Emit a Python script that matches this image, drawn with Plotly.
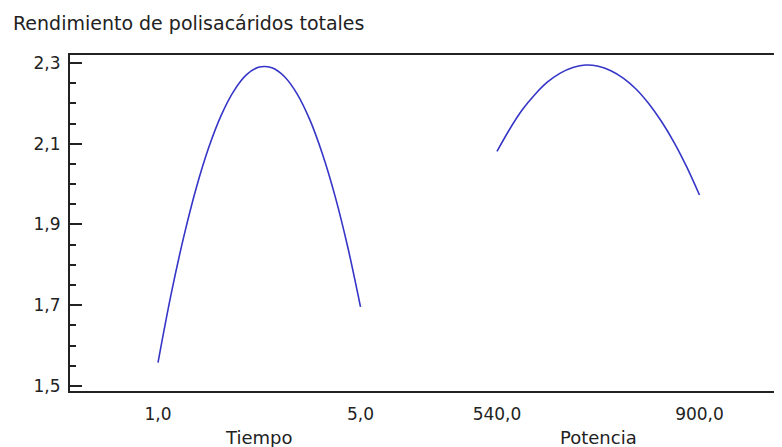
import plotly.graph_objects as go

# ---- data ----
title_text = "Rendimiento de polisacáridos totales"
factor_names = ["Tiempo", "Potencia"]

tiempo_levels = [1.0, 1.25, 1.5, 1.75, 2.0, 2.25, 2.5, 2.75, 3.0, 3.25, 3.5,
                 3.75, 4.0, 4.25, 4.5, 4.75, 5.0]
tiempo_yield = [1.558, 1.722, 1.865, 1.988, 2.090, 2.171, 2.231, 2.271, 2.290,
                2.288, 2.266, 2.223, 2.159, 2.074, 1.969, 1.843, 1.696]

potencia_levels = [540.0, 562.5, 585.0, 607.5, 630.0, 652.5, 675.0, 697.5, 720.0,
                   742.5, 765.0, 787.5, 810.0, 832.5, 855.0, 877.5, 900.0]
potencia_yield = [2.081, 2.136, 2.184, 2.222, 2.253, 2.275, 2.289, 2.295, 2.292,
                  2.281, 2.262, 2.235, 2.199, 2.155, 2.103, 2.042, 1.973]

x_tick_labels = ["1,0", "5,0", "540,0", "900,0"]
y_ticks = [1.5, 1.7, 1.9, 2.1, 2.3]

# ---- layout helpers (positions of each factor panel on a shared axis) ----
GAP = 0.674  # gap between the two factor segments, in segment widths


def to_pos(vals, lo, hi, offset):
    return [offset + (v - lo) / (hi - lo) for v in vals]


t_lo, t_hi = tiempo_levels[0], tiempo_levels[-1]
p_lo, p_hi = potencia_levels[0], potencia_levels[-1]
off2 = 1 + GAP

x_t = to_pos(tiempo_levels, t_lo, t_hi, 0.0)
x_p = to_pos(potencia_levels, p_lo, p_hi, off2)

line_color = "#3535c8"
font_family = "DejaVu Sans"
text_color = "#222222"

# page body has an 8px margin; the figure fills the rest of the window
W, H = 774, 439
PAD = 8

fig = go.Figure()
fig.add_trace(go.Scatter(x=x_t, y=tiempo_yield, mode="lines",
                         line=dict(color=line_color, width=1.6,
                                   shape="spline", smoothing=1),
                         name=factor_names[0], hoverinfo="y"))
fig.add_trace(go.Scatter(x=x_p, y=potencia_yield, mode="lines",
                         line=dict(color=line_color, width=1.6,
                                   shape="spline", smoothing=1),
                         name=factor_names[1], hoverinfo="y"))
# helper trace so the right-hand tick axis is drawn
fig.add_trace(go.Scatter(x=[0], y=[1.9], mode="lines", yaxis="y2",
                         line=dict(width=0), hoverinfo="skip", showlegend=False))

y_range = [1.4876, 2.3198]
x_range = [-0.4346, 3.0815]

plot_bottom = 391 - PAD
plot_h = plot_bottom - (55 - PAD)

fig.update_layout(
    width=W, height=H,
    margin=dict(l=70 - PAD, r=0, t=55 - PAD, b=H - plot_bottom),
    paper_bgcolor="white", plot_bgcolor="white",
    showlegend=False,
    separators=",.",
    font=dict(family=font_family, size=17, color=text_color),
    title=dict(text=title_text, xref="container", x=(13 - PAD) / W, xanchor="left",
               yref="container", y=1 - (23 - PAD) / H, yanchor="middle",
               font=dict(family=font_family, size=19, color=text_color)),
    xaxis=dict(range=x_range, showgrid=False, zeroline=False,
               showline=True, linecolor="#222222", linewidth=2, mirror=True,
               ticks="", tickmode="array",
               tickvals=[x_t[0], x_t[-1], x_p[0], x_p[-1]],
               ticktext=x_tick_labels, ticklabelstandoff=7,
               tickfont=dict(size=17, family=font_family, color=text_color)),
    yaxis=dict(range=y_range, showgrid=False, zeroline=False,
               showline=True, linecolor="#222222", linewidth=2,
               ticks="inside", ticklen=12, tickwidth=2, tickcolor="#222222",
               tickmode="array", tickvals=y_ticks, tickformat=".1f",
               minor=dict(ticks="inside", ticklen=6, tickwidth=1.5,
                          tickcolor="#222222", tick0=1.5, dtick=0.05),
               ticklabelstandoff=4,
               tickfont=dict(size=17, family=font_family, color=text_color)),
    yaxis2=dict(range=y_range, overlaying="y", side="right", showgrid=False,
                zeroline=False, showline=False, showticklabels=False,
                ticks="inside", ticklen=8, tickwidth=2, tickcolor="#222222",
                tickmode="array", tickvals=y_ticks,
                minor=dict(ticks="inside", ticklen=3, tickwidth=1.5,
                           tickcolor="#222222", tick0=1.5, dtick=0.05)),
)

for i, name in enumerate(factor_names):
    fig.add_annotation(text=name, xref="x", yref="paper",
                       x=0.5 + i * off2, y=-(437 - 391) / plot_h,
                       xanchor="center", yanchor="middle", showarrow=False,
                       font=dict(family=font_family, size=18, color=text_color))

fig.write_html("out.html")
